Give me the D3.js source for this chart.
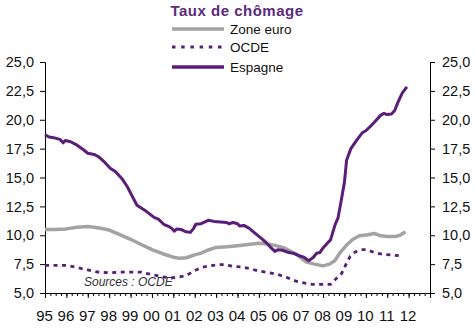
<!DOCTYPE html>
<html>
<head>
<meta charset="utf-8">
<script src="https://cdn.jsdelivr.net/npm/d3@7"></script>
<style>
  html, body { margin: 0; padding: 0; background: #fff; }
  svg { display: block; font-family: "Liberation Sans", Arial, sans-serif; }
</style>
</head>
<body>
<svg id="chart" width="475" height="335"></svg>
<script>
// Unemployment rate (%) — dates as decimal years
const espagneDates = [1995.0, 1995.2, 1995.4, 1995.7, 1995.85, 1995.95, 1996.2, 1996.5, 1996.8, 1997.0,
  1997.3, 1997.5, 1997.8, 1998.05, 1998.3, 1998.6, 1998.85, 1999.1, 1999.3, 1999.5, 1999.75,
  2000.1, 2000.3, 2000.55, 2000.8, 2000.95, 2001.05, 2001.15, 2001.35, 2001.6, 2001.8, 2001.95,
  2002.05, 2002.3, 2002.65, 2002.9, 2003.2, 2003.5, 2003.6, 2003.8, 2004.0, 2004.1, 2004.3,
  2004.55, 2004.8, 2005.1, 2005.35, 2005.55, 2005.75, 2005.9, 2006.1, 2006.4, 2006.6, 2006.85,
  2007.1, 2007.34, 2007.55, 2007.7, 2007.85, 2008.0, 2008.2, 2008.35, 2008.56, 2008.7, 2008.85,
  2009.0, 2009.1, 2009.3, 2009.6, 2009.85, 2010.0, 2010.2, 2010.45, 2010.7, 2010.85, 2011.0,
  2011.2, 2011.35, 2011.5, 2011.7, 2011.92];
const espagneValues = [18.7, 18.5, 18.45, 18.3, 18.0, 18.2, 18.1, 17.8, 17.4, 17.1,
  17.0, 16.8, 16.3, 15.8, 15.5, 14.9, 14.2, 13.3, 12.6, 12.35, 12.05,
  11.55, 11.4, 10.95, 10.75, 10.55, 10.35, 10.55, 10.5, 10.3, 10.25, 10.6,
  10.95, 11.0, 11.3, 11.2, 11.15, 11.1, 11.0, 11.1, 11.0, 10.8, 10.85,
  10.6, 10.2, 9.75, 9.35, 8.95, 8.6, 8.75, 8.7, 8.5, 8.45, 8.25,
  8.1, 7.8, 8.1, 8.45, 8.5, 8.9, 9.3, 9.6, 10.9, 11.5, 13.0,
  14.6, 16.5, 17.5, 18.3, 18.9, 19.05, 19.4, 19.9, 20.4, 20.55, 20.45,
  20.5, 20.8, 21.5, 22.3, 22.85];

const zoneEuroDates = [1995.0, 1995.5, 1996.0, 1996.5, 1997.0, 1997.3, 1997.6, 1998.0, 1998.5, 1999.0,
  1999.5, 2000.0, 2000.5, 2001.0, 2001.3, 2001.6, 2002.0, 2002.3, 2002.6, 2003.0, 2003.5,
  2004.0, 2004.5, 2005.0, 2005.4, 2005.8, 2006.2, 2006.5, 2006.8, 2007.2, 2007.6, 2008.0,
  2008.3, 2008.55, 2008.8, 2009.1, 2009.4, 2009.7, 2010.1, 2010.4, 2010.7, 2011.0, 2011.4,
  2011.6, 2011.85];
const zoneEuroValues = [10.5, 10.5, 10.55, 10.7, 10.75, 10.7, 10.6, 10.45, 10.05, 9.65,
  9.2, 8.75, 8.4, 8.1, 8.0, 8.05, 8.3, 8.45, 8.7, 8.95, 9.0,
  9.1, 9.2, 9.3, 9.25, 9.1, 8.9, 8.6, 8.3, 7.7, 7.5, 7.35,
  7.5, 7.8, 8.5, 9.15, 9.65, 9.95, 10.05, 10.15, 9.95, 9.9, 9.9,
  10.0, 10.3];

const ocdeDates = [1995.0, 1996.0, 1996.5, 1997.0, 1997.5, 1998.0, 1998.5, 1999.0, 1999.5, 2000.0,
  2000.5, 2000.9, 2001.3, 2001.6, 2001.95, 2002.3, 2002.7, 2003.1, 2003.4, 2003.8, 2004.2,
  2004.6, 2005.0, 2005.5, 2005.9, 2006.3, 2006.7, 2007.0, 2007.5, 2008.0, 2008.35, 2008.56,
  2008.87, 2009.05, 2009.26, 2009.5, 2009.8, 2010.05, 2010.4, 2010.8, 2011.2, 2011.67];
const ocdeValues = [7.4, 7.4, 7.2, 7.0, 6.8, 6.75, 6.8, 6.8, 6.8, 6.6,
  6.4, 6.3, 6.4, 6.5, 6.9, 7.2, 7.35, 7.45, 7.45, 7.3, 7.25,
  7.1, 6.9, 6.75, 6.6, 6.35, 6.05, 5.9, 5.75, 5.75, 5.75, 6.15,
  6.7, 7.4, 8.15, 8.55, 8.75, 8.75, 8.5, 8.35, 8.3, 8.2];

const yearLabels = ["95","96","97","98","99","00","01","02","03","04","05","06","07","08","09","10","11","12"];
const yTicks = [5, 7.5, 10, 12.5, 15, 17.5, 20, 22.5, 25];
const seriesNames = ["Zone euro", "OCDE", "Espagne"];

const purple = "#5a1e78";
const grey = "#a3a3a3";

const svg = d3.select("#chart");
const plotLeft = 45, plotRight = 430, plotTop = 62, plotBottom = 293;

const x = d3.scaleLinear().domain([1995, 2013]).range([plotLeft, plotRight]);
const y = d3.scaleLinear().domain([5, 25]).range([plotBottom, plotTop]);

const fmt = v => d3.format(".1f")(v).replace(".", ",");

// Title
svg.append("text")
  .attr("x", 237).attr("y", 16)
  .attr("text-anchor", "middle")
  .attr("font-size", 15).attr("font-weight", "bold")
  .attr("letter-spacing", 0.5)
  .attr("fill", "#5c2a7c")
  .text("Taux de chômage");

// Left and right value axes
const yLeft = d3.axisLeft(y).tickValues(yTicks).tickFormat(fmt).tickSize(5).tickPadding(6);
const yRight = d3.axisRight(y).tickValues(yTicks).tickFormat(fmt).tickSize(5).tickPadding(7);

function styleAxis(g) {
  g.select(".domain").attr("stroke", "#000").attr("stroke-width", 1);
  g.selectAll(".tick line").attr("stroke", "#000");
  g.selectAll(".tick text").attr("fill", "#111").attr("font-size", 14.5)
    .attr("font-family", "Liberation Sans, Arial, sans-serif");
}
svg.append("g").attr("transform", `translate(${plotLeft},0)`).call(yLeft).call(styleAxis);
svg.append("g").attr("transform", `translate(${plotRight},0)`).call(yRight).call(styleAxis);

// Time axis: yearly major ticks, quarterly minor ticks
const quarters = d3.range(1995, 2013.001, 0.25);
const xMinor = d3.axisBottom(x).tickValues(quarters).tickSize(3).tickFormat("");
const gxm = svg.append("g").attr("transform", `translate(0,${plotBottom})`).call(xMinor);
gxm.select(".domain").attr("stroke", "#000");
gxm.selectAll(".tick line").attr("stroke", "#000");

const yearTicks = d3.range(1995, 2014);
const xMajor = d3.axisBottom(x).tickValues(yearTicks).tickSize(5)
  .tickFormat((d, i) => yearLabels[i] || "").tickPadding(12);
const gx = svg.append("g").attr("transform", `translate(0,${plotBottom})`).call(xMajor);
gx.select(".domain").remove();
gx.selectAll(".tick line").attr("stroke", "#000");
gx.selectAll(".tick text").attr("fill", "#111").attr("font-size", 15)
  .attr("font-family", "Liberation Sans, Arial, sans-serif")
  .attr("dx", -1);

// Source note
svg.append("text")
  .attr("x", 84).attr("y", 286)
  .attr("font-size", 12).attr("font-style", "italic")
  .attr("fill", "#333")
  .text("Sources : OCDE");

// Series lines
const line = d3.line().x(d => x(d[0])).y(d => y(d[1])).curve(d3.curveLinear);

const zoneEuro = d3.zip(zoneEuroDates, zoneEuroValues);
const ocde = d3.zip(ocdeDates, ocdeValues);
const espagne = d3.zip(espagneDates, espagneValues);

svg.append("path").datum(zoneEuro).attr("d", line)
  .attr("fill", "none").attr("stroke", grey).attr("stroke-width", 3.5)
  .attr("stroke-linejoin", "round");

svg.append("path").datum(ocde).attr("d", line)
  .attr("fill", "none").attr("stroke", purple).attr("stroke-width", 2.8)
  .attr("stroke-dasharray", "4,4.5");

svg.append("path").datum(espagne).attr("d", line)
  .attr("fill", "none").attr("stroke", purple).attr("stroke-width", 3)
  .attr("stroke-linejoin", "round");

// Legend
const legendY = [29, 47, 67];
const legendStyles = [
  { stroke: grey, width: 3.5, dash: null },
  { stroke: purple, width: 2.8, dash: "3.5,5.7" },
  { stroke: purple, width: 3.5, dash: null }
];
const lg = svg.append("g");
seriesNames.forEach((name, i) => {
  lg.append("line")
    .attr("x1", 172).attr("x2", 224)
    .attr("y1", legendY[i]).attr("y2", legendY[i])
    .attr("stroke", legendStyles[i].stroke)
    .attr("stroke-width", legendStyles[i].width)
    .attr("stroke-dasharray", legendStyles[i].dash);
  lg.append("text")
    .attr("x", 230).attr("y", legendY[i])
    .attr("dy", "0.35em")
    .attr("font-size", 13.5).attr("fill", "#111")
    .text(name);
});
</script>
</body>
</html>
